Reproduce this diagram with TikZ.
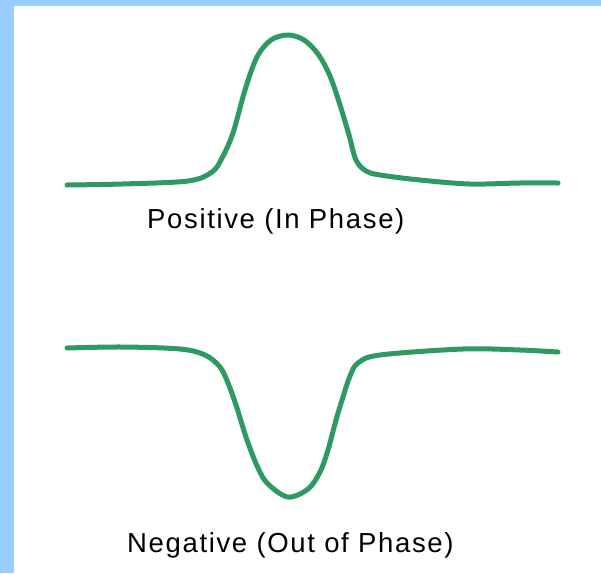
\documentclass[tikz,border=0pt]{standalone}
\usepackage{fontspec}
\setmainfont{Liberation Sans}
\definecolor{framblue}{RGB}{153,204,255}
\definecolor{wavegreen}{RGB}{46,153,96}
\begin{document}
\begin{tikzpicture}[x=1pt,y=-1pt,
  wave/.style={draw=wavegreen,line width=5pt,line cap=round,line join=round},
  lbl/.style={inner sep=0pt,anchor=base west,font=\fontsize{27.5pt}{32pt}\selectfont\addfontfeature{LetterSpace=6}}]
\useasboundingbox (0,0) rectangle (601,573);
\fill[white] (0,0) rectangle (601,573);
\fill[framblue] (0,0) rectangle (14,573);
\fill[framblue] (0,0) rectangle (601,6);
% positive peak
\draw[wave] plot[smooth,tension=0.55] coordinates {(67,185) (122,184) (188,181) (212,172) (222,158) (233,133) (245,90) (257,57) (271,40) (288,35) (304,40) (318,54) (330,76) (340,105) (349,135) (356,160) (366,171) (380,175) (420,180) (470,184) (520,183) (558,183)};
% negative dip
\draw[wave] plot[smooth,tension=0.55] coordinates {(67,348) (122,347) (180,349) (205,355) (220,367) (228,383) (236,405) (247,440) (258,468) (268,484) (288,497) (308,489) (320,472) (328,450) (336,420) (343,397) (350,376) (358,363) (380,355) (463,349) (520,350) (558,352)};
\node[lbl] (pos) at (147,228) {Positive (In Phase)};
\node[lbl] (neg) at (127,552) {Negative (Out of Phase)};
\end{tikzpicture}
\end{document}
